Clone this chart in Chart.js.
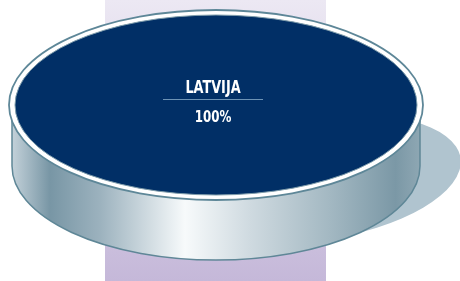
<!doctype html>
<html lang="lv">
<head>
  <meta charset="utf-8">
  <title>Latvija</title>
  <script src="https://cdn.jsdelivr.net/npm/chart.js"></script>
  <style>
    html, body { margin: 0; padding: 0; background: #fff; }
    #wrap { position: relative; width: 460px; height: 281px; }
  </style>
</head>
<body>
  <div id="wrap">
    <canvas id="pieChart"></canvas>
  </div>
<script>
  // data
  const labels = ['LATVIJA'];
  const shares = [100];

  // look of the 3d disc
  const topRX = 201, topRY = 90;    // navy top face
  const rimRX = 207, rimRY = 95;    // white lip
  const sideRX = 204, sideRY = 94;  // cylinder wall
  const depth = 61;

  function ellipsePath(ctx, x, y, rx, ry) {
    ctx.beginPath();
    ctx.ellipse(x, y, rx, ry, 0, 0, Math.PI * 2);
  }

  // condensed bold text (no narrow font installed, so squeeze it)
  function narrowText(ctx, text, x, y, size, squeeze) {
    ctx.save();
    ctx.translate(x, y);
    ctx.scale(squeeze, 1);
    ctx.font = 'bold ' + size + 'px "DejaVu Sans Condensed", "DejaVu Sans", sans-serif';
    ctx.fillText(text, 0, 0);
    ctx.restore();
  }

  const discPlugin = {
    id: 'disc',
    beforeDraw(chart) {
      const ctx = chart.ctx;
      // lavender band behind
      const g = ctx.createLinearGradient(0, 0, 0, 281);
      g.addColorStop(0, '#ece8f3');
      g.addColorStop(1, '#c5b8d9');
      ctx.save();
      ctx.fillStyle = g;
      ctx.fillRect(105, 0, 221, 281);
      ctx.restore();
    },
    beforeDatasetsDraw(chart) {
      const ctx = chart.ctx;
      const arc = chart.getDatasetMeta(0).data[0];
      const cx = arc.x, cy = arc.y;

      ctx.save();
      // shadow
      ctx.fillStyle = '#b0c4cf';
      ctx.beginPath();
      ctx.ellipse(cx + 96, cy + 74, 150, 62, -8 * Math.PI / 180, 0, Math.PI * 2);
      ctx.fill();

      // side wall
      const sg = ctx.createLinearGradient(cx - sideRX, 0, cx + sideRX, 0);
      sg.addColorStop(0, '#c3d1d9');
      sg.addColorStop(0.093, '#7896a5');
      sg.addColorStop(0.216, '#9cb2be');
      sg.addColorStop(0.424, '#f7fafb');
      sg.addColorStop(0.583, '#cfdae0');
      sg.addColorStop(0.779, '#a3b8c2');
      sg.addColorStop(0.94, '#7b98a6');
      sg.addColorStop(1, '#8ea7b3');
      ctx.fillStyle = sg;
      ctx.beginPath();
      ctx.moveTo(cx - sideRX, cy);
      ctx.lineTo(cx - sideRX, cy + depth);
      ctx.ellipse(cx, cy + depth, sideRX, sideRY, 0, Math.PI, 0, true);
      ctx.lineTo(cx + sideRX, cy);
      ctx.ellipse(cx, cy, sideRX, sideRY, 0, 0, Math.PI, false);
      ctx.closePath();
      ctx.fill();
      ctx.strokeStyle = '#5f8797';
      ctx.lineWidth = 1.5;
      ctx.beginPath();
      ctx.moveTo(cx - sideRX, cy);
      ctx.lineTo(cx - sideRX, cy + depth);
      ctx.ellipse(cx, cy + depth, sideRX, sideRY, 0, Math.PI, 0, true);
      ctx.lineTo(cx + sideRX, cy);
      ctx.stroke();

      // white lip
      ellipsePath(ctx, cx, cy, rimRX, rimRY);
      ctx.fillStyle = '#ffffff';
      ctx.fill();
      ctx.strokeStyle = '#5e8798';
      ctx.lineWidth = 1.8;
      ctx.stroke();
      ctx.restore();

      // squash the pie slice into the top ellipse
      const r = arc.outerRadius;
      ctx.save();
      ctx.translate(cx, cy);
      ctx.scale(topRX / r, topRY / r);
      ctx.translate(-cx, -cy);
    },
    afterDatasetsDraw(chart) {
      const ctx = chart.ctx;
      ctx.restore();
      const arc = chart.getDatasetMeta(0).data[0];
      const cx = arc.x, cy = arc.y;

      ctx.save();
      ellipsePath(ctx, cx, cy, topRX, topRY);
      ctx.strokeStyle = '#7e9cab';
      ctx.lineWidth = 1;
      ctx.stroke();

      // label
      const total = shares.reduce((a, b) => a + b, 0);
      const tx = cx - 3;
      ctx.fillStyle = '#ffffff';
      ctx.textAlign = 'center';
      ctx.textBaseline = 'alphabetic';
      narrowText(ctx, labels[0], tx, cy - 12.5, 17, 0.84);
      ctx.strokeStyle = '#6d93b5';
      ctx.lineWidth = 1;
      ctx.beginPath();
      ctx.moveTo(tx - 50, cy - 5.5);
      ctx.lineTo(tx + 50, cy - 5.5);
      ctx.stroke();
      narrowText(ctx, Math.round(shares[0] / total * 100) + '%', tx, cy + 17, 16.5, 0.8);
      ctx.restore();
    }
  };

  const data = {
    labels: labels,
    datasets: [{
      data: shares,
      backgroundColor: ['#012f66'],
      borderWidth: 0,
      hoverOffset: 0,
      clip: false
    }]
  };

  const config = {
    type: 'pie',
    data,
    options: {
      responsive: true,
      maintainAspectRatio: false,
      animation: false,
      events: [],
      layout: { padding: { left: 0, right: 28, top: 0, bottom: 71 } },
      plugins: {
        legend: { display: false },
        tooltip: { enabled: false }
      }
    },
    plugins: [discPlugin]
  };

  const pieChart = new Chart(document.getElementById('pieChart'), config);
</script>
</body>
</html>
